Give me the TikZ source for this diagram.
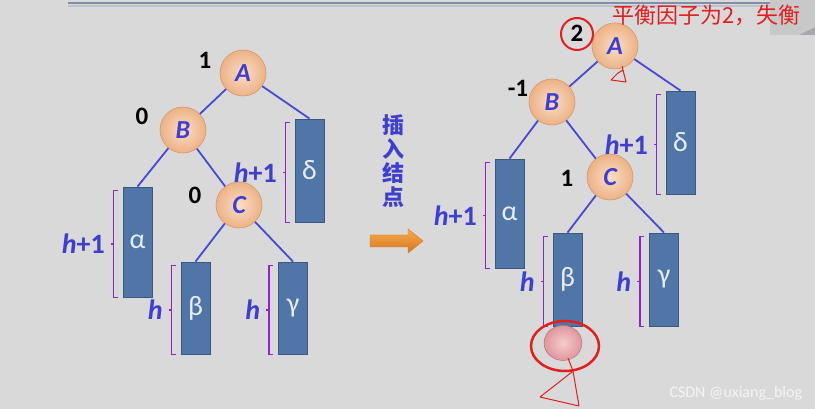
\documentclass[tikz,border=0pt]{standalone}
\usepackage{fontspec}
\setmainfont{Carlito}
\newfontfamily\cjk{Noto Sans CJK SC}
\usetikzlibrary{calc,positioning,shapes.geometric}
\definecolor{bg}{RGB}{217,217,217}
\definecolor{lblue}{RGB}{62,62,208}
\definecolor{eblue}{RGB}{72,72,212}
\definecolor{purp}{RGB}{142,32,222}
\definecolor{subfill}{RGB}{80,118,168}
\definecolor{subedge}{RGB}{58,88,130}
\definecolor{greek}{RGB}{232,236,244}
\definecolor{peachin}{RGB}{250,222,198}
\definecolor{peachout}{RGB}{236,178,134}
\definecolor{nodeedge}{RGB}{214,150,104}
\definecolor{hand}{RGB}{226,30,30}
\definecolor{orA}{RGB}{246,172,82}
\definecolor{orB}{RGB}{214,118,30}
\definecolor{pinkin}{RGB}{246,204,206}
\definecolor{pinkout}{RGB}{222,150,156}

\tikzset{
  avl/.style={circle,minimum size=46pt,inner sep=0pt,draw=nodeedge,line width=0.6pt,
    inner color=peachin,outer color=peachout,text=lblue,
    font=\fontsize{26}{26}\selectfont\bfseries\itshape},
  sub/.style={rectangle,minimum width=29pt,inner sep=0pt,draw=subedge,fill=subfill,
    line width=0.8pt,text=greek,font=\fontsize{28}{28}\selectfont},
  edge/.style={draw=eblue,line width=1.8pt},
  brk/.style={draw=purp,line width=1.7pt},
  bal/.style={font=\fontsize{25}{25}\selectfont\bfseries},
  hl/.style={text=lblue,font=\fontsize{28}{28}\selectfont\bfseries,inner sep=5pt},
  doodle/.style={draw=hand,line width=1pt,line join=round}
}

% bracket left of a subtree box: #1 box, #2 label name, #3 label
\newcommand{\hbr}[3]{%
  \draw[brk] ([xshift=-5pt,yshift=-4pt]#1.north west) -- ++(-4,0) |- ([xshift=-5pt]#1.south west);
  \draw[brk] ($([xshift=-9pt,yshift=-4pt]#1.north west)!0.5!([xshift=-9pt]#1.south west)$) -- ++(-3,0)
    node[hl,left] (#2) {#3};
}

\begin{document}
\begin{tikzpicture}[x=1pt,y=-1pt]
\useasboundingbox (0,0) rectangle (815,409);
\fill[bg] (0,0) rectangle (815,409);
\draw[line width=1.5pt,color={rgb,255:red,128;green,142;blue,168}] (68,3) -- (770,3);
\draw[line width=1.5pt,color={rgb,255:red,186;green,194;blue,210}] (68,6) -- (770,6);
\fill[color={rgb,255:red,200;green,200;blue,200}] (770,0) rectangle (815,35);
\fill[color={rgb,255:red,168;green,168;blue,172}] (799,35) -- (815,27) -- (815,35) -- cycle;

% before
\node[avl] (A1) at (243,73) {A};
\node[avl] (B1) at (183,130) {B};
\node[avl] (C1) at (239,205) {C};
\node[sub,minimum height=103pt] (d1) at (309.5,170.5) {δ};
\node[sub,minimum height=110pt] (a1) at (137.5,242) {α};
\node[sub,minimum height=92pt] (b1) at (195.5,308) {β};
\node[sub,minimum height=92pt] (g1) at (293,308) {γ};
\draw[edge] (A1) -- (B1);
\draw[edge] (A1) -- (d1.north);
\draw[edge] (B1) -- (a1.north);
\draw[edge] (B1) -- (C1);
\draw[edge] (C1) -- (b1.north);
\draw[edge] (C1) -- (g1.north);
\node[bal] (fA1) at (205,60) {1};
\node[bal] (fB1) at (142,116) {0};
\node[bal] (fC1) at (195,195) {0};
\hbr{d1}{hd1}{{\itshape h}+1}
\hbr{a1}{ha1}{{\itshape h}+1}
\hbr{b1}{hb1}{{\itshape h}}
\hbr{g1}{hg1}{{\itshape h}}

% middle
\node[text=lblue,font=\cjk\bfseries\fontsize{22}{24}\selectfont,align=center] (ins) at (393,161) {插\\入\\结\\点};
\shade[top color=orA,bottom color=orB,draw=orB,line width=0.4pt]
  (370,235) -- (408,235) -- (408,229) -- (423,241) -- (408,253) -- (408,247) -- (370,247) -- cycle;

% after
\node[avl] (A2) at (615,46) {A};
\node[avl] (B2) at (552,102) {B};
\node[avl] (C2) at (610,177) {C};
\node[sub,minimum height=103pt] (d2) at (680.5,142.5) {δ};
\node[sub,minimum height=109pt] (a2) at (509.5,213.5) {α};
\node[sub,minimum height=93pt] (b2) at (567.5,279.5) {β};
\node[sub,minimum height=93pt] (g2) at (664,279.5) {γ};
\draw[edge] (A2) -- (B2);
\draw[edge] (A2) -- (d2.north);
\draw[edge] (B2) -- (a2.north);
\draw[edge] (B2) -- (C2);
\draw[edge] (C2) -- (b2.north);
\draw[edge] (C2) -- (g2.north);
\node[bal] (fA2) at (577,33) {2};
\node[bal] (fB2) at (518,88) {-1};
\node[bal] (fC2) at (567,178) {1};
\hbr{d2}{hd2}{{\itshape h}+1}
\hbr{a2}{ha2}{{\itshape h}+1}
\hbr{b2}{hb2}{{\itshape h}}
\hbr{g2}{hg2}{{\itshape h}}
\node[ellipse,minimum width=38pt,minimum height=35pt,draw=pinkout!80!black,line width=0.5pt,
  inner color=pinkin,outer color=pinkout] (new) at (563,343) {};

% red marks
\node[circle,draw=hand,line width=2pt,minimum size=32pt] (ring) at (577,34) {};
\node[ellipse,draw=hand,line width=2.5pt,minimum width=68pt,minimum height=50pt] (ring2) at (565,346) {};
\draw[doodle] (568,358) -- (573,371) -- (579,406) -- (540,397) -- (572,372);
\draw[doodle] (622,66) -- (626,82) -- (611,80) -- (618,73) -- (623,70);
\node[text=hand,font=\cjk\fontsize{22}{22}\selectfont,anchor=west] (warn) at (609,15) {平衡因子为2，失衡};
\node[text=white!92!gray,font=\fontsize{16}{16}\selectfont,anchor=west] (wm) at (666,393) {CSDN @uxiang\_blog};
\end{tikzpicture}
\end{document}
